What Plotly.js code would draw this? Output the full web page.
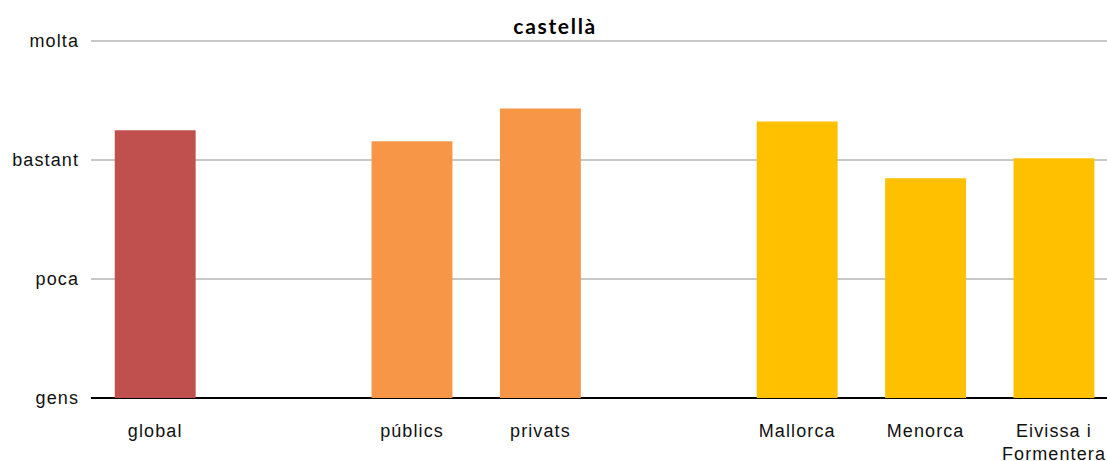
<!DOCTYPE html>
<html>
<head>
<meta charset="utf-8">
<script src="https://cdn.plot.ly/plotly-3.0.1.min.js"></script>
<style>
html,body{margin:0;padding:0;background:#fff;overflow:hidden}
#chart{width:1107px;height:461px}
.xtick text, .ytick text {letter-spacing: 1.1px;}
.gtitle {letter-spacing: 1.7px;}
</style>
</head>
<body>
<div id="chart"></div>
<script>
// Data
const categories = ['global', ' ', 'públics', 'privats', '  ', 'Mallorca', 'Menorca', 'Eivissa i<br>Formentera'];
const groups = ['global', null, 'centre', 'centre', null, 'illa', 'illa', 'illa'];
const values = [2.25, null, 2.157, 2.433, null, 2.324, 1.847, 2.014];
const levelValues = [0, 1, 2, 3];
const levelLabels = ['gens', 'poca', 'bastant', 'molta'];
const chartTitle = 'castellà';

const groupColors = {global: '#C0504D', centre: '#F79646', illa: '#FFC000'};
const colors = groups.map(g => g ? groupColors[g] : 'rgba(0,0,0,0)');

const trace = {
  type: 'bar',
  x: categories,
  y: values,
  width: 0.63,
  marker: {color: colors, line: {width: 0}},
  hoverinfo: 'x+y'
};

const layout = {
  width: 1107,
  height: 461,
  margin: {l: 91, r: 0, t: 37.5, b: 62.5, pad: 0},
  paper_bgcolor: '#ffffff',
  plot_bgcolor: '#ffffff',
  showlegend: false,
  title: {
    text: '<b>' + chartTitle + '</b>',
    font: {family: 'Lato, sans-serif', size: 21, color: '#000'},
    x: 0.5015, xanchor: 'center', yref: 'container', y: 0.942, yanchor: 'middle'
  },
  font: {family: 'Liberation Sans, Arial, sans-serif', size: 18, color: '#111'},
  xaxis: {
    type: 'category',
    categoryorder: 'array',
    categoryarray: categories,
    range: [-0.5, 7.413],
    showgrid: false,
    zeroline: false,
    showline: false,
    ticks: '',
    ticklabelstandoff: 20,
    tickfont: {family: 'Liberation Sans, Arial, sans-serif', size: 18, color: '#111'},
    fixedrange: true
  },
  yaxis: {
    range: [0, 3.025],
    tickvals: levelValues,
    ticktext: levelLabels,
    showgrid: true,
    gridcolor: '#C8C8C8',
    gridwidth: 1.5,
    zeroline: true,
    zerolinecolor: '#000000',
    zerolinewidth: 2,
    showline: false,
    ticks: '',
    ticklabelstandoff: 11,
    tickfont: {family: 'Liberation Sans, Arial, sans-serif', size: 18, color: '#111'},
    fixedrange: true
  }
};

Plotly.newPlot('chart', [trace], layout, {displayModeBar: false, staticPlot: true});
</script>
</body>
</html>
